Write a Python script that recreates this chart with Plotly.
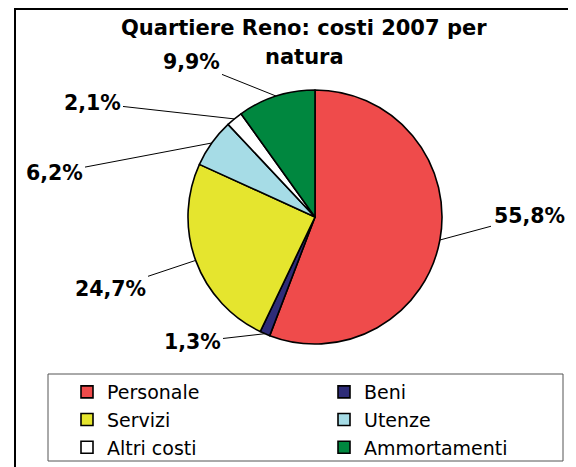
import math
import plotly.graph_objects as go

# Quartiere Reno: costi 2007 per natura
categorie = ["Personale", "Beni", "Servizi", "Utenze", "Altri costi", "Ammortamenti"]
percentuali = [55.8, 1.3, 24.7, 6.2, 2.1, 9.9]
colori = ["#EF4B4B", "#2E2C78", "#E5E52E", "#A6DCE6", "#FFFFFF", "#00873F"]

W, H = 576, 467
OFF = 8  # margine del body della pagina html


def px(x):
    return (x - OFF) / W


def py(y):
    return 1 - (y - OFF) / H


# centro e raggio della torta in pixel
cx, cy, r = 315, 217, 127
# posizioni (centro testo) delle etichette in pixel
pos_etichette = [(529, 216), (192, 342), (110, 289), (54, 173), (92, 103), (191, 62)]

fig = go.Figure()
fig.add_trace(go.Pie(
    labels=categorie,
    values=percentuali,
    sort=False,
    direction="clockwise",
    rotation=0,
    textinfo="none",
    hoverinfo="label+percent",
    marker=dict(colors=colori, line=dict(color="black", width=1.6)),
    domain=dict(x=[px(cx - r), px(cx + r)], y=[py(cy + r), py(cy - r)]),
))

# etichette con linee di richiamo
annotazioni = []
cum = 0
for val, (tx, ty) in zip(percentuali, pos_etichette):
    mid = (cum + val / 2) / 100 * 2 * math.pi
    cum += val
    ex = cx + r * math.sin(mid)
    ey = cy - r * math.cos(mid)
    annotazioni.append(dict(
        x=px(ex), y=py(ey), xref="paper", yref="paper",
        ax=tx - ex, ay=ty - ey,
        text=("%.1f%%" % val).replace(".", ","),
        showarrow=True, arrowhead=0, arrowwidth=1, arrowcolor="black",
        standoff=0, borderpad=2,
        font=dict(family="DejaVu Sans", size=20.5, color="black", weight="bold"),
    ))

for riga, yy in [("Quartiere Reno: costi 2007 per", 28), ("natura", 57)]:
    annotazioni.append(dict(
        x=px(304), y=py(yy), xref="paper", yref="paper", showarrow=False,
        xanchor="center", yanchor="middle", text=riga,
        font=dict(family="DejaVu Sans", size=21, color="black", weight="bold"),
    ))

fig.update_layout(
    width=W, height=H,
    margin=dict(l=0, r=0, t=0, b=0),
    paper_bgcolor="white",
    annotations=annotazioni,
    showlegend=True,
    legend=dict(
        orientation="h",
        x=59 / W, y=1 - 365 / H, xanchor="left", yanchor="top",
        entrywidth=212,
        font=dict(family="DejaVu Sans", size=19, color="black"),
        bgcolor="rgba(0,0,0,0)",
        traceorder="normal",
    ),
    shapes=[
        dict(type="rect", xref="paper", yref="paper",
             x0=px(15), x1=px(573), y0=-0.02, y1=py(9),
             line=dict(color="black", width=2)),
        dict(type="rect", xref="paper", yref="paper",
             x0=px(48), x1=px(563), y0=py(461), y1=py(374),
             line=dict(color="#555555", width=1)),
    ],
)

fig.write_html("out.html")
